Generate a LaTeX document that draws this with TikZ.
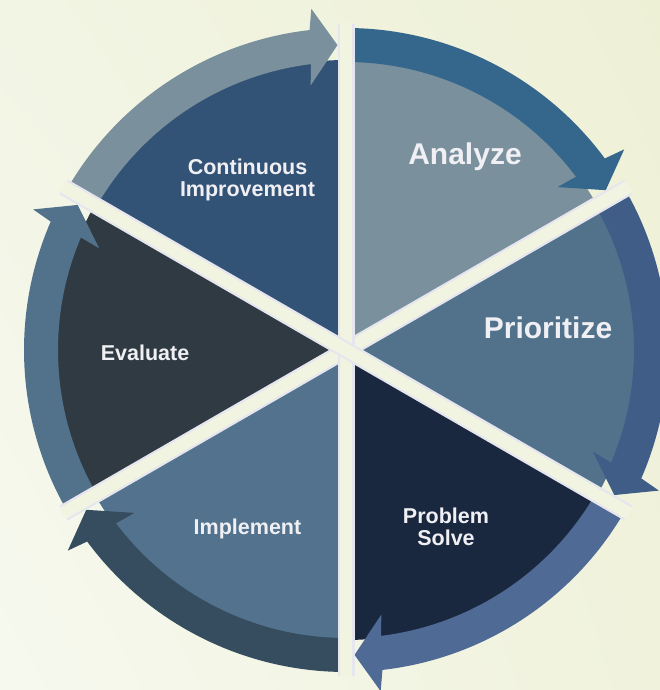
\documentclass[tikz,border=0pt]{standalone}
\usepackage{fontspec}
\setmainfont{Liberation Sans}
\usetikzlibrary{shadings}
\definecolor{bgul}{HTML}{F2F5E4}
\definecolor{bgur}{HTML}{EEF0D6}
\definecolor{bgll}{HTML}{F6F9EE}
\definecolor{bglr}{HTML}{F0F2DC}
\definecolor{gapedge}{HTML}{E6E6EF}
\definecolor{gapfill}{HTML}{F2F4E2}
\definecolor{labelwhite}{HTML}{EFEFF4}
\definecolor{wedgeA}{HTML}{7A909C}
\definecolor{wedgeB}{HTML}{52728C}
\definecolor{wedgeC}{HTML}{19283E}
\definecolor{wedgeD}{HTML}{53728D}
\definecolor{wedgeE}{HTML}{2F3A42}
\definecolor{wedgeF}{HTML}{325276}
\definecolor{arrowA}{HTML}{35678C}
\definecolor{arrowB}{HTML}{3F5D87}
\definecolor{arrowC}{HTML}{506A96}
\definecolor{arrowD}{HTML}{354D5F}
\definecolor{arrowE}{HTML}{52728C}
\definecolor{arrowF}{HTML}{7A909C}
\tikzset{
steplabel/.style={text=labelwhite, font=\bfseries\fontsize{21.5}{22.5}\selectfont, align=center, inner sep=0}, biglabel/.style={steplabel, font=\bfseries\fontsize{30}{32}\selectfont}}

\begin{document}
\begin{tikzpicture}[x=1pt, y=1pt]
\useasboundingbox (0,0) rectangle (660,690);
\clip (0,0) rectangle (660,690);
\shade[upper left=bgul, upper right=bgur, lower left=bgll, lower right=bglr] (0,0) rectangle (660,690);
\coordinate (ctr) at (346,340);
\foreach \a/\col in {30/wedgeA, -30/wedgeB, -90/wedgeC, -150/wedgeD, 150/wedgeE, 90/wedgeF}{
      \fill [\col] (ctr) -- ([shift={(\a:290)}]ctr) arc [start angle=\a, end angle=\a+60, radius=290pt] -- cycle;
}
\foreach \s/\e/\col in {90/30/arrowA, 30/-30/arrowB, -30/-90/arrowC, -90/-150/arrowD, -150/-210/arrowE, 150/90/arrowF}{
      \fill [\col] ([shift={(\s:322)}]ctr) arc [start angle=\s, end angle=\e+6.5, radius=322pt]
            -- ([shift={({\e+5.8}:343)}]ctr) -- ([shift={({\e+1.6}:305)}]ctr)
            -- ([shift={({\e+7.6}:267)}]ctr) -- ([shift={({\e+7}:288)}]ctr)
            arc [start angle=\e+7, end angle=\s, radius=288pt] -- cycle;
}
\foreach \a in {30, 90, 150}{
      \draw [gapedge, line width=17] ([shift={(\a:326)}]ctr) -- ([shift={({\a+180}:326)}]ctr);
      \draw [gapfill, line width=12.5] ([shift={(\a:327)}]ctr) -- ([shift={({\a+180}:327)}]ctr);
}
\node [biglabel] (analyze) at (465,533) {Analyze};
\node [biglabel] (prioritize) at (548,362) {Prioritize};
\node [steplabel] (solve) at (446,163) {Problem\\Solve};
\node [steplabel] (implement) at (247.5,161) {Implement};
\node [steplabel] (evaluate) at (145,337) {Evaluate};
\node [steplabel] (improve) at (247.5,510) {Continuous\\Improvement};
\end{tikzpicture}
\end{document}
